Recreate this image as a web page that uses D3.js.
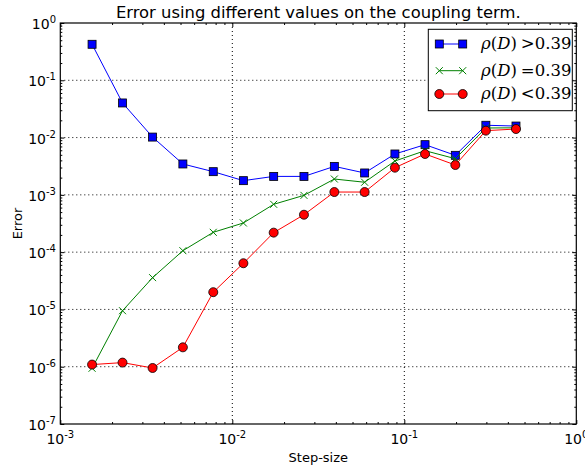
<!DOCTYPE html>
<html><head><meta charset="utf-8">
<script src="https://cdn.jsdelivr.net/npm/d3@7"></script>
<style>body{margin:0;background:#fff}svg{display:block}</style>
</head><body>
<svg id="c" width="585" height="470"></svg>
<script>
const stepSizes = [0.00153, 0.0023, 0.00344, 0.00516, 0.00775, 0.0116, 0.0174, 0.0261, 0.0392, 0.0588, 0.0882, 0.132, 0.198, 0.298, 0.446];
const errAbove = [0.425, 0.0402, 0.0102, 0.00346, 0.00254, 0.00177, 0.0021, 0.0021, 0.00314, 0.00241, 0.00517, 0.00752, 0.0049, 0.0164, 0.0159];
const errEqual = [9.4e-7, 9.5e-6, 3.59e-5, 1.06e-4, 2.22e-4, 3.23e-4, 6.84e-4, 9.8e-4, 1.89e-3, 1.66e-3, 3.9e-3, 5.9e-3, 4.28e-3, 0.0147, 0.0148];
const errBelow = [1.09e-6, 1.18e-6, 9.5e-7, 2.18e-6, 2.0e-5, 6.4e-5, 2.19e-4, 4.5e-4, 1.12e-3, 1.12e-3, 2.98e-3, 5.17e-3, 3.32e-3, 0.0132, 0.0141];
const xTickExps = [-3, -2, -1, 0];
const yTickExps = [-7, -6, -5, -4, -3, -2, -1, 0];
const seriesNames = [">0.39", "=0.39", "<0.39"];
const titleText = "Error using different values on the coupling term.";
const xLabel = "Step-size";
const yLabel = "Error";

const svg = d3.select("#c");
const L = 60.3, R = 576.3, T = 23, B = 424;
const x = d3.scaleLog().domain([1e-3, 1]).range([L, R]);
const y = d3.scaleLog().domain([1e-7, 1]).range([B, T]);
const font = "DejaVu Sans, sans-serif";

// grid
const g = svg.append("g");
xTickExps.forEach(e => {
  const v = Math.pow(10, e);
  if (e > -3 && e < 0) g.append("line").attr("x1", x(v)).attr("x2", x(v)).attr("y1", T).attr("y2", B)
    .attr("stroke", "#000").attr("stroke-dasharray", "1,3").attr("stroke-width", 1);
});
yTickExps.forEach(e => {
  const v = Math.pow(10, e);
  if (e > -7 && e < 0) g.append("line").attr("x1", L).attr("x2", R).attr("y1", y(v)).attr("y2", y(v))
    .attr("stroke", "#000").attr("stroke-dasharray", "1,3").attr("stroke-width", 1);
});

// ticks (inward, all four sides)
function minorVals(exps) {
  const out = [];
  for (let i = 0; i < exps.length - 1; i++) for (let k = 2; k <= 9; k++) out.push(k * Math.pow(10, exps[i]));
  return out;
}
const majX = xTickExps.map(e => Math.pow(10, e)), majY = yTickExps.map(e => Math.pow(10, e));
const axB = d3.axisBottom(x).tickValues(majX).tickSize(-4).tickFormat("");
const axT = d3.axisTop(x).tickValues(majX).tickSize(-4).tickFormat("");
const axL = d3.axisLeft(y).tickValues(majY).tickSize(-4).tickFormat("");
const axR = d3.axisRight(y).tickValues(majY).tickSize(-4).tickFormat("");
const mB = d3.axisBottom(x).tickValues(minorVals(xTickExps)).tickSize(-2).tickFormat("");
const mT = d3.axisTop(x).tickValues(minorVals(xTickExps)).tickSize(-2).tickFormat("");
const mL = d3.axisLeft(y).tickValues(minorVals(yTickExps)).tickSize(-2).tickFormat("");
const mR = d3.axisRight(y).tickValues(minorVals(yTickExps)).tickSize(-2).tickFormat("");
[[axB, `translate(0,${B})`], [mB, `translate(0,${B})`], [axT, `translate(0,${T})`], [mT, `translate(0,${T})`],
 [axL, `translate(${L},0)`], [mL, `translate(${L},0)`], [axR, `translate(${R},0)`], [mR, `translate(${R},0)`]].forEach(([a, t]) => {
  const gg = svg.append("g").attr("transform", t).call(a);
  gg.select(".domain").remove();
  gg.selectAll("line").attr("stroke", "#000").attr("stroke-width", 1);
});
svg.append("rect").attr("x", L).attr("y", T).attr("width", R - L).attr("height", B - T)
  .attr("fill", "none").attr("stroke", "#000").attr("stroke-width", 1.2);

// tick labels
xTickExps.forEach(e => {
  const t = svg.append("text").attr("x", x(Math.pow(10, e))).attr("y", 444).attr("text-anchor", "middle")
    .attr("font-family", font).attr("font-size", 14).attr("fill", "#000");
  t.append("tspan").text("10");
  t.append("tspan").attr("dy", -6).attr("font-size", 10).text(String(e));
});
yTickExps.forEach(e => {
  const t = svg.append("text").attr("x", 56).attr("y", y(Math.pow(10, e)) + 6).attr("text-anchor", "end")
    .attr("font-family", font).attr("font-size", 14).attr("fill", "#000");
  t.append("tspan").text("10");
  t.append("tspan").attr("dy", -6).attr("font-size", 10).text(String(e));
});

// title & axis labels
svg.append("text").attr("x", (L + R) / 2).attr("y", 18).attr("text-anchor", "middle")
  .attr("font-family", font).attr("font-size", 16.4).text(titleText);
svg.append("text").attr("x", (L + R) / 2).attr("y", 462).attr("text-anchor", "middle")
  .attr("font-family", font).attr("font-size", 13).text(xLabel);
svg.append("text").attr("transform", `translate(22,${(T + B) / 2}) rotate(-90)`).attr("text-anchor", "middle")
  .attr("font-family", font).attr("font-size", 13).text(yLabel);

// series
const series = [
  { vals: errAbove, color: "#0000ff", marker: "square" },
  { vals: errEqual, color: "#008000", marker: "x" },
  { vals: errBelow, color: "#ff0000", marker: "circle" }
];
const line = d3.line().x(d => x(d[0])).y(d => y(d[1]));
function drawMarker(sel, cx, cy, s) {
  if (s.marker === "square") sel.append("rect").attr("x", cx - 4).attr("y", cy - 4).attr("width", 8).attr("height", 8)
    .attr("fill", s.color).attr("stroke", "#000").attr("stroke-width", 0.8);
  else if (s.marker === "circle") sel.append("circle").attr("cx", cx).attr("cy", cy).attr("r", 4.5)
    .attr("fill", s.color).attr("stroke", "#000").attr("stroke-width", 0.8);
  else sel.append("path").attr("d", `M${cx - 3.5},${cy - 3.5}L${cx + 3.5},${cy + 3.5}M${cx - 3.5},${cy + 3.5}L${cx + 3.5},${cy - 3.5}`)
    .attr("stroke", s.color).attr("stroke-width", 1).attr("fill", "none");
}
const plot = svg.append("g");
series.forEach(s => {
  const pts = stepSizes.map((v, i) => [v, s.vals[i]]);
  plot.append("path").attr("d", line(pts)).attr("fill", "none").attr("stroke", s.color).attr("stroke-width", 1);
  pts.forEach(p => drawMarker(plot, x(p[0]), y(p[1]), s));
});

// legend
const lg = svg.append("g");
lg.append("rect").attr("x", 428.3).attr("y", 29.3).attr("width", 144).attr("height", 81.4)
  .attr("fill", "#fff").attr("stroke", "#000").attr("stroke-width", 1);
const rowsY = [44, 70.7, 94];
series.forEach((s, i) => {
  const yy = rowsY[i];
  lg.append("line").attr("x1", 439.3).attr("x2", 462.7).attr("y1", yy).attr("y2", yy).attr("stroke", s.color).attr("stroke-width", 1);
  drawMarker(lg, 439.3, yy, s);
  drawMarker(lg, 462.7, yy, s);
  const t = lg.append("text").attr("x", 481).attr("y", yy + 5).attr("font-family", "DejaVu Serif, serif").attr("font-size", 16.5).attr("fill", "#000");
  t.append("tspan").attr("font-style", "italic").text("ρ");
  t.append("tspan").text("(");
  t.append("tspan").attr("font-style", "italic").text("D");
  t.append("tspan").text(")");
  t.append("tspan").attr("dx", 4).text(seriesNames[i]);
});
</script>
</body></html>
